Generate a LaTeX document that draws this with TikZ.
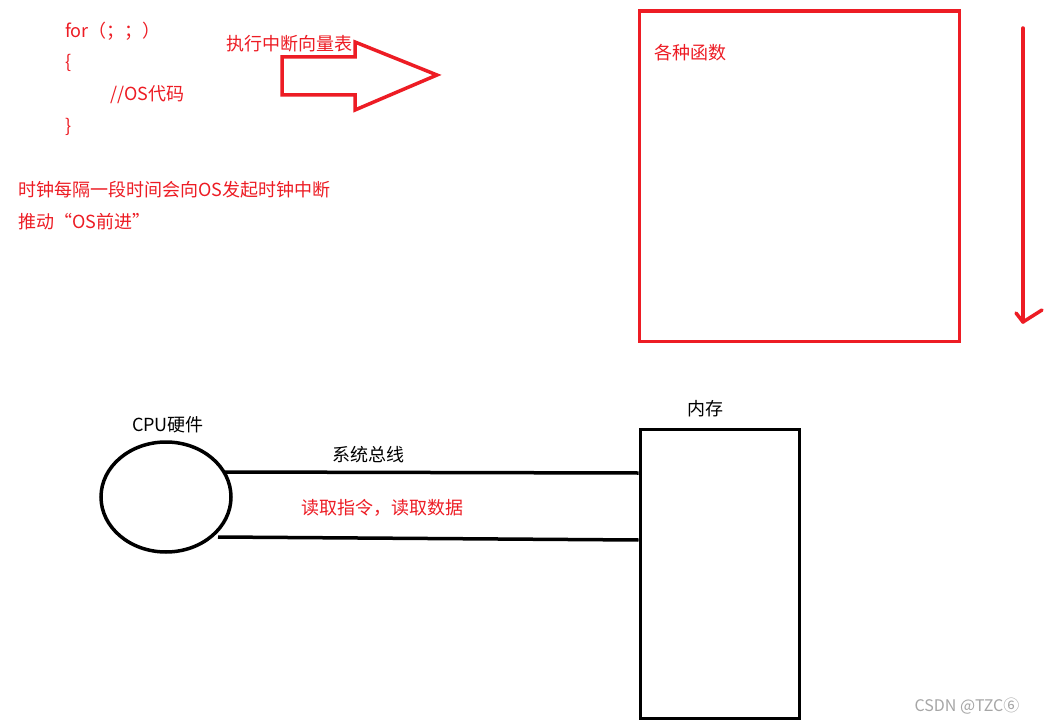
\documentclass[tikz,border=0pt]{standalone}
\usepackage{fontspec}
\usetikzlibrary{shapes.geometric}
\setmainfont{Noto Sans CJK SC}
\definecolor{rd}{HTML}{ED1C24}
\begin{document}
\begin{tikzpicture}[x=1pt,y=-1pt,
  rt/.style={text=rd,anchor=west,inner sep=0pt,font=\fontsize{18}{20}\selectfont},
  bt/.style={text=black,anchor=center,inner sep=0pt,font=\fontsize{18}{20}\selectfont},
  rl/.style={draw=rd,line width=3.5pt},
  bl/.style={draw=black,line width=3.5pt}]
\useasboundingbox[fill=white] (0,0) rectangle (1045,725);
\node[rt] (c1) at (65,31) {for（；；）};
\node[rt] (c2) at (65,63) {\{};
\node[rt] (c3) at (110,95) {//OS代码};
\node[rt] (c4) at (65,127) {\}};
\node[rt] (t1) at (18,190) {时钟每隔一段时间会向OS发起时钟中断};
\node[rt] (t2) at (18,222) {推动“OS前进”};
\node[rt] (t3) at (226,44) {执行中断向量表};
\draw[rl,line join=miter] (282,57) -- (355,57) -- (355,42) -- (437,75) -- (355,110) -- (355,95) -- (282,95) -- cycle;
\node[rl,minimum width=320pt,minimum height=330pt,anchor=north west] (fn) at (637.5,9.5) {};
\node[rt] (t4) at (654,53) {各种函数};
\coordinate (a1) at (1023,28);
\coordinate (a2) at (1023,322);
\draw[rl,line cap=round] (a1) -- (a2);
\draw[rl,line cap=round,line join=round] (1016,313) -- (a2) -- (1042,310);
\node[bl,ellipse,minimum width=130pt,minimum height=110pt,draw,inner sep=0pt] (cpu) at (166,497) {};
\node[bt] (cpul) at (168,425) {CPU硬件};
\node[bl,draw,minimum width=159pt,minimum height=289pt,anchor=north west] (mem) at (638.5,427.5) {};
\node[bt] (meml) at (705,409) {内存};
\draw[bl] (225,472) -- (mem.west |- 0,473);
\draw[bl] (218,537) -- (mem.west |- 0,540);
\node[bt] (bus) at (368,455) {系统总线};
\node[rt,anchor=center] (rd) at (382,508) {读取指令，读取数据};
\node[text=gray!70,font=\fontsize{16}{18}\selectfont,inner sep=0pt] (wm) at (967,706) {CSDN @TZC⑥};
\end{tikzpicture}
\end{document}
